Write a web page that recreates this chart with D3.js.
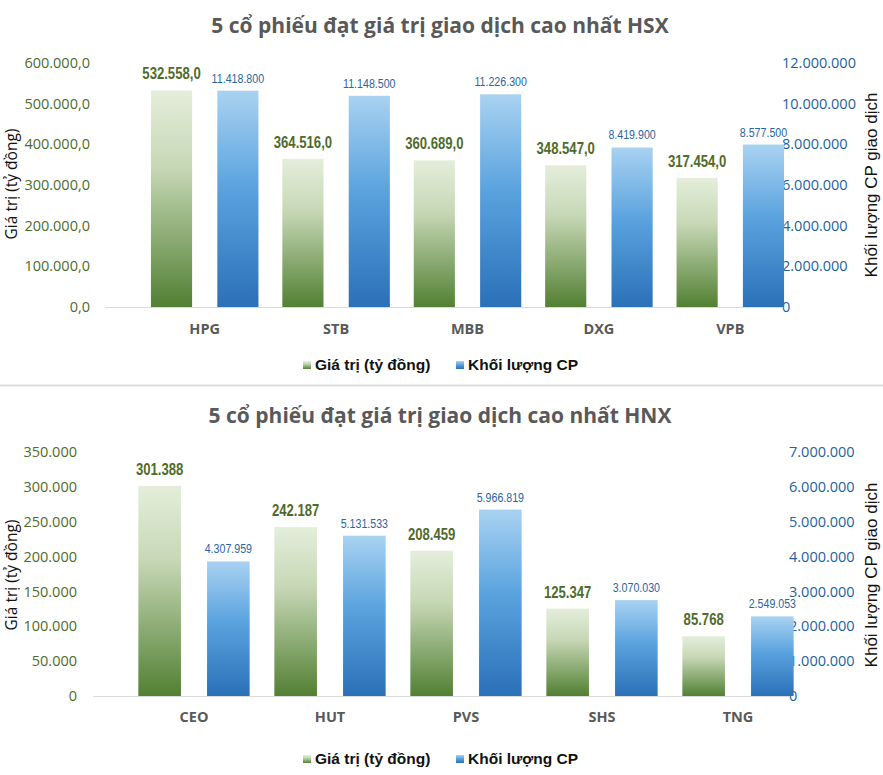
<!DOCTYPE html>
<html>
<head>
<meta charset="utf-8">
<script src="https://cdn.jsdelivr.net/npm/d3@7"></script>
<style>
  html, body { margin: 0; padding: 0; background: #ffffff; }
  svg { display: block; }
</style>
</head>
<body>
<svg id="chart" width="883" height="775"></svg>
<script>
// ---------- DATA ----------
const hsxTitle = "5 cổ phiếu đạt giá trị giao dịch cao nhất HSX";
const hsxCategories = ["HPG", "STB", "MBB", "DXG", "VPB"];
const hsxValues = [532558.0, 364516.0, 360689.0, 348547.0, 317454.0];
const hsxVolumes = [11418800, 11148500, 11226300, 8419900, 8577500];
const hsxValueTicks = [0, 100000, 200000, 300000, 400000, 500000, 600000];
const hsxVolumeTicks = [0, 2000000, 4000000, 6000000, 8000000, 10000000, 12000000];

const hnxTitle = "5 cổ phiếu đạt giá trị giao dịch cao nhất HNX";
const hnxCategories = ["CEO", "HUT", "PVS", "SHS", "TNG"];
const hnxValues = [301388, 242187, 208459, 125347, 85768];
const hnxVolumes = [4307959, 5131533, 5966819, 3070030, 2549053];
const hnxValueTicks = [0, 50000, 100000, 150000, 200000, 250000, 300000, 350000];
const hnxVolumeTicks = [0, 1000000, 2000000, 3000000, 4000000, 5000000, 6000000, 7000000];

const seriesNames = ["Giá trị (tỷ đồng)", "Khối lượng CP"];
const leftAxisTitle = "Giá trị (tỷ đồng)";
const rightAxisTitle = "Khối lượng CP giao dịch";

// ---------- FORMATTERS ----------
const viLocale = d3.formatLocale({decimal: ",", thousands: ".", grouping: [3], currency: ["", "₫"]});
const fmt1 = viLocale.format(",.1f");
const fmt0 = viLocale.format(",d");

// ---------- STYLE ----------
const GREEN_TEXT = "#4f6b2a";
const GREEN_AXIS = "#4f6b2a";
const BLUE_TEXT = "#2a65a3";
const BLUE_AXIS = "#245f9e";
const GRAY = "#595959";
const SANS = "'Open Sans', 'Noto Sans', sans-serif";
const ARIAL = "'Liberation Sans', Arial, sans-serif";
const NARROW_SCALE = 0.82;

const svg = d3.select("#chart");
const defs = svg.append("defs");

const gGreen = defs.append("linearGradient").attr("id", "gradGreen")
  .attr("x1", 0).attr("y1", 0).attr("x2", 0).attr("y2", 1);
gGreen.append("stop").attr("offset", "0%").attr("stop-color", "#e4eedb");
gGreen.append("stop").attr("offset", "35%").attr("stop-color", "#c7d8b6");
gGreen.append("stop").attr("offset", "100%").attr("stop-color", "#528033");

const gBlue = defs.append("linearGradient").attr("id", "gradBlue")
  .attr("x1", 0).attr("y1", 0).attr("x2", 0).attr("y2", 1);
gBlue.append("stop").attr("offset", "0%").attr("stop-color", "#a9d2f1");
gBlue.append("stop").attr("offset", "45%").attr("stop-color", "#5aa3de");
gBlue.append("stop").attr("offset", "100%").attr("stop-color", "#2b70b8");

function drawChart(cfg) {
  const g = svg.append("g");

  // Title
  g.append("text")
    .attr("x", cfg.titleX).attr("y", cfg.titleY)
    .attr("text-anchor", "middle")
    .attr("font-family", SANS).attr("font-weight", "bold")
    .attr("font-size", 21).attr("fill", GRAY)
    .text(cfg.title);

  // Scales
  const x0 = d3.scaleBand().domain(cfg.categories).range(cfg.bandRange).padding(0);
  const x1 = d3.scaleBand().domain(["value", "volume"]).range([0, x0.bandwidth()])
    .paddingInner(0.38).paddingOuter(0.18);
  const yVal = d3.scaleLinear().domain([0, d3.max(cfg.valueTicks)]).range([cfg.yBottom, cfg.yTop]);
  const yVolAxis = d3.scaleLinear().domain([0, d3.max(cfg.volumeTicks)]).range([cfg.yBottom, cfg.yTop]);
  // bars of the volume series as drawn in the reference
  const yVol = d3.scaleLinear().domain([0, cfg.volumeBarMax]).range([cfg.yBottom, cfg.yTop]);

  // Left axis
  const leftAxis = d3.axisLeft(yVal).tickValues(cfg.valueTicks).tickSize(0).tickPadding(0)
    .tickFormat(cfg.valueTickFmt);
  const la = g.append("g").attr("transform", `translate(${cfg.leftAxisX},0)`).call(leftAxis);
  la.select(".domain").remove();
  la.selectAll("text").attr("font-family", SANS).attr("font-size", 14.5).attr("fill", GREEN_AXIS);

  // Right axis
  const rightAxis = d3.axisRight(yVolAxis).tickValues(cfg.volumeTicks).tickSize(0).tickPadding(0)
    .tickFormat(fmt0);
  const ra = g.append("g").attr("transform", `translate(${cfg.rightAxisX},0)`).call(rightAxis);
  ra.select(".domain").remove();
  ra.selectAll("text").attr("font-family", SANS).attr("font-size", 14.5).attr("fill", BLUE_AXIS);

  // Bars
  const groups = g.selectAll(".cat").data(cfg.categories).join("g")
    .attr("transform", d => `translate(${x0(d)},0)`);

  groups.append("rect")
    .attr("x", x1("value")).attr("width", x1.bandwidth())
    .attr("y", (d, i) => yVal(cfg.values[i]))
    .attr("height", (d, i) => yVal(0) - yVal(cfg.values[i]))
    .attr("fill", "url(#gradGreen)");

  groups.append("rect")
    .attr("x", x1("volume")).attr("width", x1.bandwidth())
    .attr("y", (d, i) => yVol(cfg.volumes[i]))
    .attr("height", (d, i) => yVol(0) - yVol(cfg.volumes[i]))
    .attr("fill", "url(#gradBlue)");

  // Value labels (narrow look)
  groups.append("text")
    .attr("transform", (d, i) =>
      `translate(${x1("value") + x1.bandwidth() / 2},${yVal(cfg.values[i]) - 11}) scale(${NARROW_SCALE},1)`)
    .attr("text-anchor", "middle")
    .attr("font-family", ARIAL).attr("font-weight", "bold").attr("font-size", 16)
    .attr("fill", GREEN_TEXT)
    .text((d, i) => cfg.valueLabelFmt(cfg.values[i]));

  groups.append("text")
    .attr("transform", (d, i) =>
      `translate(${x1("volume") + x1.bandwidth() / 2},${yVol(cfg.volumes[i]) - 8}) scale(${NARROW_SCALE},1)`)
    .attr("text-anchor", "middle")
    .attr("font-family", ARIAL).attr("font-size", 13)
    .attr("fill", BLUE_TEXT)
    .text((d, i) => fmt0(cfg.volumes[i]));

  // Baseline
  g.append("line")
    .attr("x1", cfg.baseX[0]).attr("x2", cfg.baseX[1])
    .attr("y1", yVal(0) + 0.5).attr("y2", yVal(0) + 0.5)
    .attr("stroke", "#d9d9d9").attr("stroke-width", 1.2);

  // Category labels
  const xa = d3.axisBottom(x0).tickSize(0).tickPadding(0);
  const xg = g.append("g").attr("transform", `translate(0,${cfg.catLabelY})`).call(xa);
  xg.select(".domain").remove();
  xg.selectAll("text").attr("font-family", SANS).attr("font-weight", "bold")
    .attr("font-size", 14.5).attr("fill", GRAY).attr("dy", "0.35em");

  // Axis titles
  g.append("text")
    .attr("transform", `translate(${cfg.leftTitleX},${(cfg.yTop + cfg.yBottom) / 2 + cfg.leftTitleDy}) rotate(-90)`)
    .attr("text-anchor", "middle").attr("dy", "0.35em")
    .attr("font-family", SANS).attr("font-size", 15.5).attr("fill", "#111")
    .text(leftAxisTitle);
  g.append("text")
    .attr("transform", `translate(${cfg.rightTitleX},${(cfg.yTop + cfg.yBottom) / 2 + cfg.rightTitleDy}) rotate(-90)`)
    .attr("text-anchor", "middle").attr("dy", "0.35em")
    .attr("font-family", ARIAL).attr("font-size", 17).attr("fill", "#111")
    .text(rightAxisTitle);

  // Legend
  const lg = g.append("g").attr("transform", `translate(0,${cfg.legendY})`);
  const legendItems = [
    {name: seriesNames[0], fill: "url(#gradGreen)", x: 303},
    {name: seriesNames[1], fill: "url(#gradBlue)", x: 456}
  ];
  legendItems.forEach(it => {
    lg.append("rect").attr("x", it.x).attr("y", -9).attr("width", 8).attr("height", 8).attr("fill", it.fill);
    lg.append("text").attr("x", it.x + 12).attr("y", 0)
      .attr("font-family", ARIAL).attr("font-weight", "bold").attr("font-size", 15.5)
      .attr("fill", "#111").text(it.name);
  });
}

drawChart({
  title: hsxTitle, titleX: 440, titleY: 33,
  categories: hsxCategories, values: hsxValues, volumes: hsxVolumes,
  valueTicks: hsxValueTicks, volumeTicks: hsxVolumeTicks,
  volumeBarMax: 12880000,
  valueTickFmt: fmt1, valueLabelFmt: fmt1,
  bandRange: [139, 796], yTop: 63, yBottom: 307,
  leftAxisX: 90, rightAxisX: 782, baseX: [105, 782],
  catLabelY: 329, leftTitleX: 12, leftTitleDy: -1, rightTitleX: 871, rightTitleDy: 0,
  legendY: 370
});

drawChart({
  title: hnxTitle, titleX: 440, titleY: 423,
  categories: hnxCategories, values: hnxValues, volumes: hnxVolumes,
  valueTicks: hnxValueTicks, volumeTicks: hnxVolumeTicks,
  volumeBarMax: 7810000,
  valueTickFmt: fmt0, valueLabelFmt: fmt0,
  bandRange: [126, 806], yTop: 452, yBottom: 696,
  leftAxisX: 77, rightAxisX: 789, baseX: [93, 790],
  catLabelY: 717, leftTitleX: 12, leftTitleDy: 1, rightTitleX: 871, rightTitleDy: 1,
  legendY: 764
});

// separator between the two charts
svg.append("line").attr("x1", 0).attr("x2", 883).attr("y1", 385.5).attr("y2", 385.5)
  .attr("stroke", "#dedede").attr("stroke-width", 2);
</script>
</body>
</html>
